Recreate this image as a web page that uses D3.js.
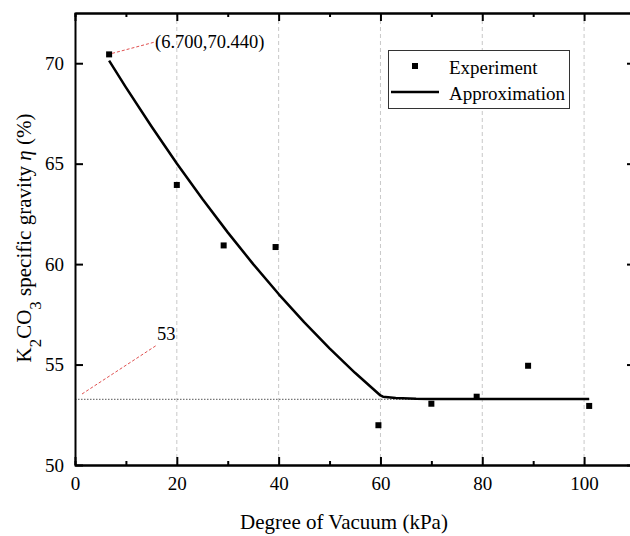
<!DOCTYPE html>
<html>
<head>
<meta charset="utf-8">
<script src="https://cdn.jsdelivr.net/npm/d3@7"></script>
<style>
  body { margin: 0; background: #fff; }
  svg text { font-family: 'Liberation Serif'; }
</style>
</head>
<body>
<div id="chart"></div>
<script>
// experiment points
const expX = [6.7, 20.0, 29.2, 39.4, 59.6, 70.0, 78.9, 89.0, 101.0];
const expY = [70.44, 63.94, 60.93, 60.85, 51.98, 53.05, 53.40, 54.94, 52.94];

// approximation curve
const fitX = [6.7, 10, 15, 20, 25, 30, 35, 40, 45, 50, 55, 60, 60.5, 63, 67, 70, 80, 90, 101];
const fitY = [70.13, 68.80, 66.86, 65.01, 63.25, 61.58, 60.00, 58.51, 57.11, 55.81, 54.59, 53.46, 53.40, 53.34, 53.30, 53.29, 53.29, 53.29, 53.29];

const plateau = 53.27;
const xTicks = [0, 20, 40, 60, 80, 100];
const xMinor = [10, 30, 50, 70, 90];
const yTicks = [50, 55, 60, 65, 70];

const serif = "'Liberation Serif'";
const width = 630, height = 536;
const margin = { top: 13, right: -5, bottom: 71, left: 75 };

const svg = d3.select("#chart").append("svg")
    .attr("width", width)
    .attr("height", height);

const x = d3.scaleLinear().domain([0, 110]).range([margin.left, width - margin.right]);
const y = d3.scaleLinear().domain([50, 72.5]).range([height - margin.bottom, margin.top]);

// vertical grid
svg.append("g")
    .selectAll("line")
    .data(xTicks.filter(d => d > 0))
    .join("line")
    .attr("x1", d => x(d)).attr("x2", d => x(d))
    .attr("y1", y(50)).attr("y2", y(72.5))
    .attr("stroke", "#c8c8c8")
    .attr("stroke-width", 1)
    .attr("stroke-dasharray", "4,3");

// plateau reference line
svg.append("line")
    .attr("x1", x(0)).attr("x2", x(101))
    .attr("y1", y(plateau)).attr("y2", y(plateau))
    .attr("stroke", "#555")
    .attr("stroke-width", 1)
    .attr("stroke-dasharray", "1.5,1.5");

// axes
const axisStyle = g => {
    g.attr("font-family", null);
    g.select(".domain").attr("stroke", "#000").attr("stroke-width", 2);
    g.selectAll(".tick line").attr("stroke", "#000").attr("stroke-width", 2);
    g.selectAll(".tick text").attr("font-size", 19).attr("fill", "#000");
};

svg.append("g")
    .attr("transform", `translate(0,${y(50)})`)
    .call(d3.axisBottom(x).tickValues(xTicks).tickSizeInner(-8).tickSizeOuter(0).tickPadding(12))
    .call(axisStyle);
svg.append("g")
    .attr("transform", `translate(0,${y(50)})`)
    .call(d3.axisBottom(x).tickValues(xMinor).tickSize(-4).tickFormat(""))
    .call(axisStyle);

svg.append("g")
    .attr("transform", `translate(0,${y(72.5)})`)
    .call(d3.axisTop(x).tickValues(xTicks).tickSizeInner(-8).tickSizeOuter(0).tickFormat(""))
    .call(axisStyle);
svg.append("g")
    .attr("transform", `translate(0,${y(72.5)})`)
    .call(d3.axisTop(x).tickValues(xMinor).tickSize(-4).tickFormat(""))
    .call(axisStyle);

svg.append("g")
    .attr("transform", `translate(${x(0)},0)`)
    .call(d3.axisLeft(y).tickValues(yTicks).tickSizeInner(-8).tickSizeOuter(0).tickPadding(11))
    .call(axisStyle);

svg.append("g")
    .attr("transform", `translate(${x(110)},0)`)
    .call(d3.axisRight(y).tickValues(yTicks).tickSizeInner(-8).tickSizeOuter(0).tickFormat(""))
    .call(axisStyle);

// approximation line
const fitData = fitX.map((d, i) => [d, fitY[i]]);
svg.append("path")
    .datum(fitData)
    .attr("fill", "none")
    .attr("stroke", "#000")
    .attr("stroke-width", 2.5)
    .attr("stroke-linejoin", "round")
    .attr("d", d3.line().x(d => x(d[0])).y(d => y(d[1])));

// experiment markers
const expData = expX.map((d, i) => [d, expY[i]]);
svg.append("g")
    .selectAll("rect")
    .data(expData)
    .join("rect")
    .attr("x", d => x(d[0]) - 3)
    .attr("y", d => y(d[1]) - 3)
    .attr("width", 6)
    .attr("height", 6)
    .attr("fill", "#000");

// annotations
svg.append("line")
    .attr("x1", x(expX[0]) + 3).attr("y1", y(expY[0]) - 1)
    .attr("x2", 155).attr("y2", 42)
    .attr("stroke", "#e05050").attr("stroke-width", 1).attr("stroke-dasharray", "3,2");
svg.append("text")
    .attr("x", 155).attr("y", 48)
    .attr("font-size", 18.5)
    .text("(6.700,70.440)");

svg.append("line")
    .attr("x1", 82).attr("y1", 394)
    .attr("x2", 157).attr("y2", 345)
    .attr("stroke", "#e05050").attr("stroke-width", 1).attr("stroke-dasharray", "3,2");
svg.append("text")
    .attr("x", 157).attr("y", 340)
    .attr("font-size", 18.5)
    .text("53");

// legend
const lg = svg.append("g");
lg.append("rect")
    .attr("x", 388.5).attr("y", 50.5).attr("width", 181).attr("height", 58)
    .attr("fill", "#fff").attr("stroke", "#333").attr("stroke-width", 1);
lg.append("rect")
    .attr("x", 412).attr("y", 63).attr("width", 6).attr("height", 6).attr("fill", "#000");
lg.append("line")
    .attr("x1", 391).attr("x2", 439).attr("y1", 92).attr("y2", 92)
    .attr("stroke", "#000").attr("stroke-width", 2.5);
lg.append("text").attr("x", 449).attr("y", 74).attr("font-size", 19).text("Experiment");
lg.append("text").attr("x", 449).attr("y", 100).attr("font-size", 19).text("Approximation");

// axis titles
svg.append("text")
    .attr("x", 344).attr("y", 529)
    .attr("text-anchor", "middle")
    .attr("font-size", 21)
    .text("Degree of Vacuum (kPa)");

const yTitle = svg.append("text")
    .attr("transform", "translate(31,238) rotate(-90)")
    .attr("text-anchor", "middle")
    .attr("font-size", 21);
yTitle.append("tspan").text("K");
yTitle.append("tspan").attr("baseline-shift", "sub").attr("font-size", 17).text("2");
yTitle.append("tspan").text("CO");
yTitle.append("tspan").attr("baseline-shift", "sub").attr("font-size", 17).text("3");
yTitle.append("tspan").text(" specific gravity ");
yTitle.append("tspan").attr("font-style", "italic").text("η");
yTitle.append("tspan").text(" (%)");

svg.selectAll("text").style("font-family", serif);
</script>
</body>
</html>
